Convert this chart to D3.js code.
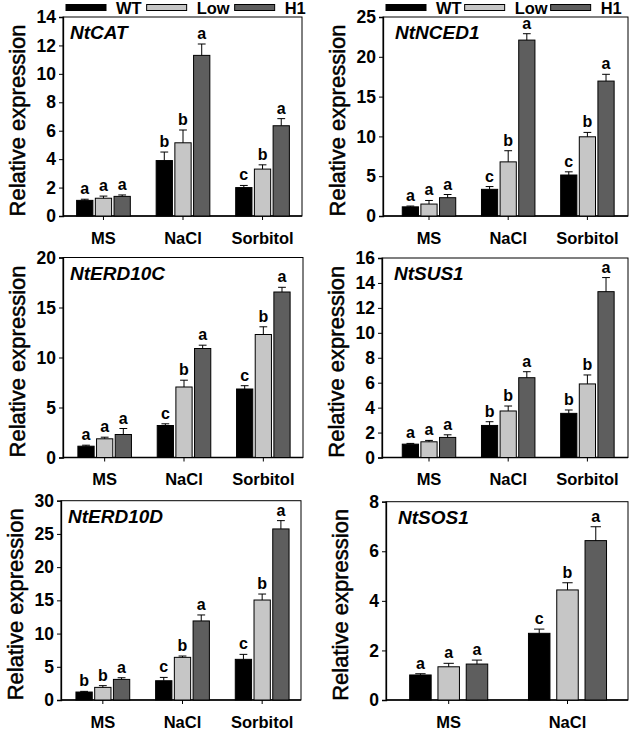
<!DOCTYPE html>
<html>
<head>
<meta charset="utf-8">
<script src="https://cdn.jsdelivr.net/npm/d3@7"></script>
<style>
  html, body { margin: 0; padding: 0; background: #fff; }
  svg { display: block; font-family: "Liberation Sans", Arial, sans-serif; }
</style>
</head>
<body>
<svg id="chart" width="630" height="729"></svg>
<script>
// ---------------- DATA ----------------
const lines = ["WT", "Low", "H1"];
const conditions3 = ["MS", "NaCl", "Sorbitol"];
const conditions2 = ["MS", "NaCl"];
const genes = ["NtCAT", "NtNCED1", "NtERD10C", "NtSUS1", "NtERD10D", "NtSOS1"];
const yMaxes = [14, 25, 20, 16, 30, 8];
const yTickSteps = [2, 5, 5, 2, 5, 2];

// means [condition][line]
const meanCAT    = [[1.10, 1.25, 1.38], [3.90, 5.15, 11.30], [2.00, 3.30, 6.35]];
const errCAT     = [[0.08, 0.15, 0.10], [0.60, 0.90, 0.80], [0.15, 0.30, 0.50]];
const sigCAT     = [["a", "a", "a"], ["b", "b", "a"], ["c", "b", "a"]];

const meanNCED1  = [[1.15, 1.50, 2.30], [3.35, 6.80, 22.10], [5.15, 9.95, 16.95]];
const errNCED1   = [[0.10, 0.45, 0.40], [0.35, 1.40, 0.80], [0.40, 0.55, 0.85]];
const sigNCED1   = [["a", "a", "a"], ["c", "b", "a"], ["c", "b", "a"]];

const meanERD10C = [[1.13, 1.87, 2.30], [3.20, 7.05, 10.90], [6.85, 12.30, 16.55]];
const errERD10C  = [[0.10, 0.16, 0.60], [0.17, 0.68, 0.33], [0.33, 0.77, 0.47]];
const sigERD10C  = [["a", "a", "a"], ["c", "b", "a"], ["c", "b", "a"]];

const meanSUS1   = [[1.07, 1.26, 1.61], [2.57, 3.73, 6.40], [3.54, 5.90, 13.30]];
const errSUS1    = [[0.06, 0.11, 0.21], [0.30, 0.40, 0.48], [0.27, 0.72, 1.13]];
const sigSUS1    = [["a", "a", "a"], ["b", "b", "a"], ["b", "b", "a"]];

const meanERD10D = [[1.20, 1.90, 3.10], [2.90, 6.42, 11.90], [6.12, 15.05, 25.75]];
const errERD10D  = [[0.10, 0.26, 0.25], [0.50, 0.20, 0.90], [0.75, 0.90, 1.25]];
const sigERD10D  = [["b", "b", "a"], ["c", "b", "a"], ["c", "b", "a"]];

const meanSOS1   = [[1.01, 1.34, 1.45], [2.69, 4.44, 6.43]];
const errSOS1    = [[0.05, 0.14, 0.16], [0.17, 0.29, 0.56]];
const sigSOS1    = [["a", "a", "a"], ["c", "b", "a"]];

// ---------------- LAYOUT / STYLE ----------------
const colors = { WT: "#000000", Low: "#c6c6c6", H1: "#5e5e5e" };
const FONT = '"Liberation Sans", Arial, sans-serif';

const panels = [
  { gene: genes[0], cats: conditions3, mean: meanCAT,    err: errCAT,    sig: sigCAT,    yMax: yMaxes[0], step: yTickSteps[0],
    fx: [63, 302], fy: [216, 17],  band: [63.7, 302.3], grp: 0.675, pad: 0.13, legend: true, lgap: 5 },
  { gene: genes[1], cats: conditions3, mean: meanNCED1,  err: errNCED1,  sig: sigNCED1,  yMax: yMaxes[1], step: yTickSteps[1],
    fx: [383, 628], fy: [216, 17],  band: [389.4, 627], grp: 0.675, pad: 0.13, legend: true, lgap: 3 },
  { gene: genes[2], cats: conditions3, mean: meanERD10C, err: errERD10C, sig: sigERD10C, yMax: yMaxes[2], step: yTickSteps[2],
    fx: [63, 303], fy: [457.5, 257.5], band: [65, 303], grp: 0.675, pad: 0.13 },
  { gene: genes[3], cats: conditions3, mean: meanSUS1,   err: errSUS1,   sig: sigSUS1,   yMax: yMaxes[3], step: yTickSteps[3],
    fx: [382, 628], fy: [457.5, 258], band: [389.4, 627], grp: 0.675, pad: 0.13 },
  { gene: genes[4], cats: conditions3, mean: meanERD10D, err: errERD10D, sig: sigERD10D, yMax: yMaxes[4], step: yTickSteps[4],
    fx: [61, 301], fy: [700, 500.7], band: [63, 302], grp: 0.675, pad: 0.13 },
  { gene: genes[5], cats: conditions2, mean: meanSOS1,   err: errSOS1,   sig: sigSOS1,   yMax: yMaxes[5], step: yTickSteps[5],
    fx: [386, 628], fy: [700, 501.7], band: [389.3, 626.9], grp: 0.657, pad: 0.24 }
];

const svg = d3.select("#chart");

panels.forEach((p, pi) => {
  const g = svg.append("g");
  const x = d3.scaleBand().domain(p.cats).range(p.band).padding(0);
  const xi = d3.scaleBand().domain(lines)
    .range([-x.bandwidth() * p.grp / 2, x.bandwidth() * p.grp / 2])
    .paddingInner(p.pad).paddingOuter(0);
  const y = d3.scaleLinear().domain([0, p.yMax]).range(p.fy);

  // frame
  g.append("rect")
    .attr("x", p.fx[0]).attr("y", p.fy[1])
    .attr("width", p.fx[1] - p.fx[0]).attr("height", p.fy[0] - p.fy[1])
    .attr("fill", "none").attr("stroke", "#000").attr("stroke-width", 1);

  // y axis
  const yAxis = d3.axisLeft(y)
    .tickValues(d3.range(0, p.yMax + p.step / 2, p.step))
    .tickSize(4).tickPadding(3).tickFormat(d3.format("d"));
  const ya = g.append("g").attr("transform", `translate(${p.fx[0]},0)`).call(yAxis);
  ya.select(".domain").attr("stroke-width", 1.3);
  ya.selectAll("text").attr("font-size", 17.5).attr("font-weight", "bold").attr("fill", "#000")
    .attr("font-family", FONT);

  // x axis
  const xAxis = d3.axisBottom(x).tickSize(4).tickPadding(12);
  const xa = g.append("g").attr("transform", `translate(0,${p.fy[0]})`).call(xAxis);
  xa.select(".domain").remove();
  xa.selectAll("text").attr("font-size", 16.5).attr("font-weight", "bold").attr("fill", "#000")
    .attr("font-family", FONT);
  g.append("line").attr("x1", p.fx[0]).attr("x2", p.fx[1])
    .attr("y1", p.fy[0]).attr("y2", p.fy[0]).attr("stroke", "#000").attr("stroke-width", 1.3);

  // y title
  g.append("text")
    .attr("transform", `translate(${p.fx[0] - 38},${(p.fy[0] + p.fy[1]) / 2 + 4}) rotate(-90)`)
    .attr("text-anchor", "middle").attr("font-size", 22).attr("fill", "#000")
    .attr("stroke", "#000").attr("stroke-width", 0.5)
    .text("Relative expression");

  // gene label
  g.append("text")
    .attr("x", p.fx[0] + (pi % 2 === 0 ? 7 : 12)).attr("y", p.fy[1] + 22)
    .attr("font-size", 19).attr("font-weight", "bold").attr("font-style", "italic")
    .attr("fill", "#000").text(p.gene);

  // bars
  const data = [];
  p.cats.forEach((c, ci) => lines.forEach((l, li) => {
    data.push({ cat: c, line: l, mean: p.mean[ci][li], err: p.err[ci][li], sig: p.sig[ci][li] });
  }));
  const bx = d => x(d.cat) + x.bandwidth() / 2 + xi(d.line);
  const cx = d => bx(d) + xi.bandwidth() / 2;

  g.selectAll("rect.bar").data(data).join("rect").attr("class", "bar")
    .attr("x", bx).attr("width", xi.bandwidth())
    .attr("y", d => y(d.mean)).attr("height", d => y(0) - y(d.mean))
    .attr("fill", d => colors[d.line]).attr("stroke", "#000").attr("stroke-width", 1);

  // error bars
  const capW = xi.bandwidth() * 0.48;
  g.selectAll("line.eb").data(data).join("line").attr("class", "eb")
    .attr("x1", cx).attr("x2", cx)
    .attr("y1", d => y(d.mean)).attr("y2", d => y(d.mean + d.err))
    .attr("stroke", "#000").attr("stroke-width", 1);
  g.selectAll("line.cap").data(data).join("line").attr("class", "cap")
    .attr("x1", d => cx(d) - capW / 2).attr("x2", d => cx(d) + capW / 2)
    .attr("y1", d => y(d.mean + d.err)).attr("y2", d => y(d.mean + d.err))
    .attr("stroke", "#000").attr("stroke-width", 1);

  // significance letters
  g.selectAll("text.sig").data(data).join("text").attr("class", "sig")
    .attr("x", cx).attr("y", d => y(d.mean + d.err) - 5)
    .attr("text-anchor", "middle").attr("font-size", 16).attr("font-weight", "bold")
    .attr("fill", "#000").text(d => d.sig);

  // legend
  if (p.legend) {
    const lg = g.append("g");
    let cur = p.fx[0] + 3;
    lines.forEach(l => {
      lg.append("rect").attr("x", cur).attr("y", 4.5).attr("width", 40).attr("height", 6)
        .attr("fill", colors[l]).attr("stroke", "#000").attr("stroke-width", 1);
      cur += 50;
      const t = lg.append("text").attr("x", cur).attr("y", 14)
        .attr("font-size", 16.5).attr("font-weight", "bold").attr("fill", "#000").text(l);
      cur += t.node().getComputedTextLength() + p.lgap;
    });
  }
});
</script>
</body>
</html>
